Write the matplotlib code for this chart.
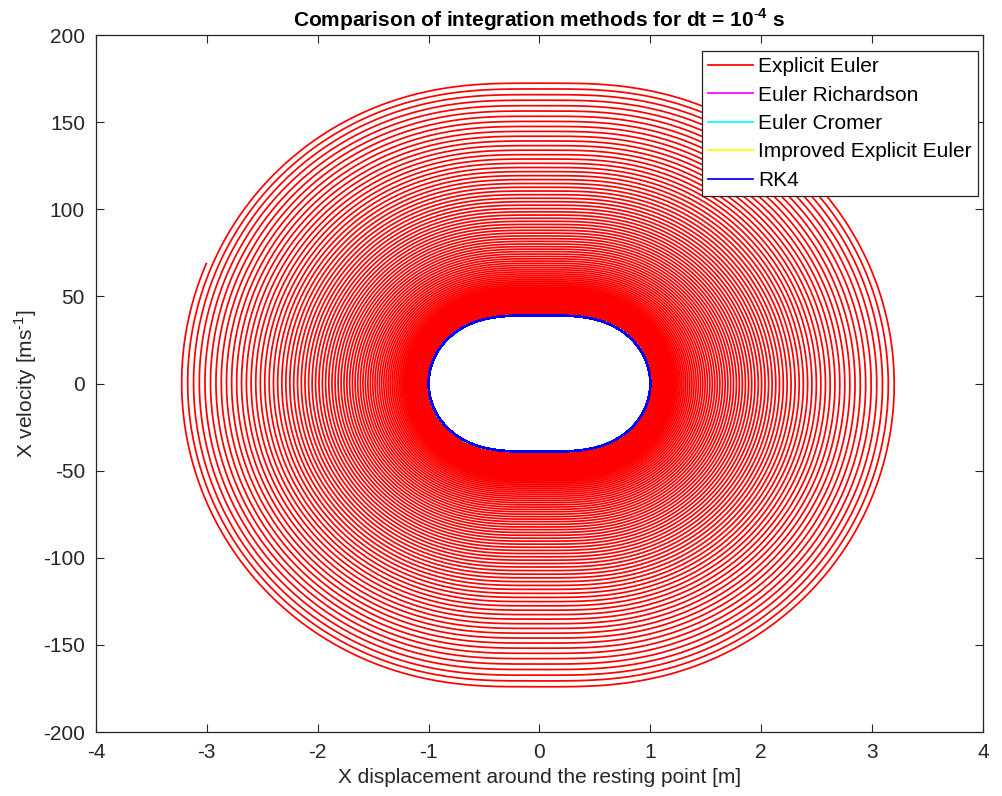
import math
import numpy as np
import matplotlib
matplotlib.use('Agg')
import matplotlib.pyplot as plt

plt.rcParams['font.family'] = ['Liberation Sans', 'DejaVu Sans']
plt.rcParams['mathtext.fontset'] = 'custom'
plt.rcParams['mathtext.rm'] = 'Liberation Sans'
plt.rcParams['mathtext.bf'] = 'Liberation Sans:bold'
plt.rcParams['axes.unicode_minus'] = False

# mass held by two springs, transverse motion (per unit mass)
k_over_m = 2000.0      # k/m [s^-2]
L = 0.5                # half distance between anchors = spring rest length [m]
x0 = 1.0               # initial displacement [m]
v0 = 0.0               # initial velocity [m/s]
dt = 1e-4              # time step [s]
t_end = 10.0           # simulated time [s]

method_names = ['Explicit Euler', 'Euler Richardson', 'Euler Cromer',
                'Improved Explicit Euler', 'RK4']
method_colors = ['#ff0000', '#ff00ff', '#00ffff', '#ffff00', '#0000ff']


def acc(x):
    return -2.0 * k_over_m * x * (1.0 - L / math.sqrt(L * L + x * x))


def step_euler(x, v):
    return x + v * dt, v + acc(x) * dt


def step_richardson(x, v):
    a = acc(x)
    vm = v + 0.5 * a * dt
    xm = x + 0.5 * v * dt
    return x + vm * dt, v + acc(xm) * dt


def step_cromer(x, v):
    v = v + acc(x) * dt
    return x + v * dt, v


def step_improved(x, v):
    a1 = acc(x)
    xp = x + v * dt
    vp = v + a1 * dt
    a2 = acc(xp)
    return x + 0.5 * (v + vp) * dt, v + 0.5 * (a1 + a2) * dt


def step_rk4(x, v):
    k1x, k1v = v, acc(x)
    k2x, k2v = v + 0.5 * dt * k1v, acc(x + 0.5 * dt * k1x)
    k3x, k3v = v + 0.5 * dt * k2v, acc(x + 0.5 * dt * k2x)
    k4x, k4v = v + dt * k3v, acc(x + dt * k3x)
    return (x + dt / 6.0 * (k1x + 2 * k2x + 2 * k3x + k4x),
            v + dt / 6.0 * (k1v + 2 * k2v + 2 * k3v + k4v))


def integrate(step):
    n = int(round(t_end / dt))
    xs = [x0] * (n + 1)
    vs = [v0] * (n + 1)
    x, v = x0, v0
    for i in range(1, n + 1):
        x, v = step(x, v)
        xs[i] = x
        vs[i] = v
    return np.array(xs), np.array(vs)


steppers = [step_euler, step_richardson, step_cromer, step_improved, step_rk4]

fig = plt.figure(figsize=(10.03, 7.96), dpi=100)
ax = fig.add_axes([0.0957, 0.0804, 0.8843, 0.8756])

for name, col, st in zip(method_names, method_colors, steppers):
    xs, vs = integrate(st)
    ax.plot(xs, vs, color=col, lw=1.25, label=name)

ax.set_xlim(-4, 4)
ax.set_ylim(-200, 200)
ax.set_xticks(np.arange(-4, 5, 1))
ax.set_yticks(np.arange(-200, 201, 50))
ax.tick_params(direction='in', top=True, right=True, length=6, width=0.8,
               labelsize=15, colors='#262626', pad=8)
for s in ax.spines.values():
    s.set_color('#262626')
    s.set_linewidth(0.9)

ax.set_xlabel('X displacement around the resting point [m]', fontsize=15,
              color='#262626', labelpad=4)
ax.set_ylabel(r'X velocity [ms$^{\text{-}1}$]', fontsize=15, color='#262626', labelpad=3)
ax.set_title(r'Comparison of integration methods for dt = 10$^{\text{-}\mathbf{4}}$ s',
             fontsize=15, fontweight='bold', pad=6)

leg = ax.legend(loc='upper right', bbox_to_anchor=(0.994, 0.977), borderaxespad=0,
                fontsize=15, fancybox=False, framealpha=1, edgecolor='#262626',
                handlelength=2.15, labelspacing=0.45, borderpad=0.3, handletextpad=0.25)
leg.get_frame().set_linewidth(0.9)

fig.savefig('out.png', dpi=100)
